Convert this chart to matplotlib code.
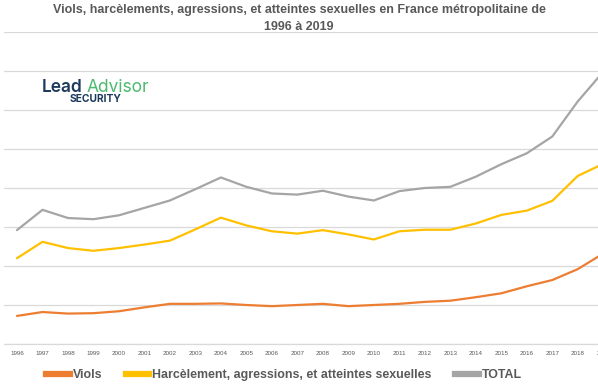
import matplotlib.pyplot as plt
from matplotlib.lines import Line2D

annees = [str(a) for a in range(1996, 2020)]
viols = [7200, 8200, 7800, 7900, 8400, 9400, 10300, 10300, 10400, 10000, 9700, 10000,
         10300, 9700, 10000, 10300, 10800, 11100, 12000, 13000, 14800, 16400, 19200, 23200]
harcelement = [22000, 26200, 24600, 23900, 24600, 25500, 26500, 29400, 32400, 30400, 28900, 28300,
               29200, 28100, 26800, 28900, 29300, 29300, 30900, 33100, 34200, 36700, 43100, 46200]
total = [29200, 34400, 32300, 32000, 33000, 34900, 36800, 39700, 42700, 40300, 38600, 38300,
         39300, 37800, 36800, 39200, 40000, 40300, 42900, 46100, 48900, 53200, 62200, 69800]
series = ["Viols", "Harcèlement, agressions, et atteintes sexuelles", "TOTAL"]
couleurs = ["#ED7D31", "#FFC000", "#A5A5A5"]

W, H = 598, 391
fig = plt.figure(figsize=(W / 100, H / 100), dpi=100)
fig.patch.set_facecolor("white")

# zone de tracé qui déborde à droite (image recadrée)
ax = fig.add_axes([4.25 / W, 1 - 344 / H, (616 - 4.25) / W, 312 / H])
x = range(len(annees))
for vals, c in zip([viols, harcelement, total], couleurs):
    ax.plot(x, vals, color=c, lw=1.6, solid_capstyle="round")

ax.set_xlim(-0.5, len(annees) - 0.5)
ax.set_ylim(0, 80000)
ax.set_yticks(range(0, 80001, 10000))
ax.set_yticklabels([])
ax.set_xticks(list(x))
ax.set_xticklabels(annees, fontsize=4.5, color="#595959", family="Liberation Sans")
ax.tick_params(length=0, pad=5)
ax.grid(axis="y", color="#D9D9D9", lw=0.9)
ax.set_axisbelow(True)
for s in ["top", "right", "left"]:
    ax.spines[s].set_visible(False)
ax.spines["bottom"].set_color("#D9D9D9")
ax.spines["bottom"].set_linewidth(0.9)

# titre
police = ["Liberation Sans"]
fig.text(0.5, 1 - 10 / H, "Viols, harcèlements, agressions, et atteintes sexuelles en France métropolitaine de",
         ha="center", va="center", fontsize=9.0, fontweight="bold", color="#595959", family=police)
fig.text(0.5, 1 - 27 / H, "1996 à 2019",
         ha="center", va="center", fontsize=9.0, fontweight="bold", color="#595959", family=police)

# logo
fig.text(42 / W, 1 - 87 / H, "Lead", ha="left", va="center", fontsize=12.5, fontweight="semibold",
         color="#1D3A5C", family="Inter")
fig.text(87 / W, 1 - 87 / H, "Advisor", ha="left", va="center", fontsize=12.5,
         color="#4CB96E", family="Inter")
fig.text(70 / W, 1 - 99 / H, "SECURITY", ha="left", va="center", fontsize=7.4, fontweight="bold",
         color="#1D3A5C", family="Inter")

# légende
handles = [Line2D([0], [0], color=c, lw=4.5) for c in couleurs]
leg = fig.legend(handles, series, loc="center", bbox_to_anchor=(284 / W, 1 - 375 / H), ncol=3,
                 frameon=False, handlelength=1.9, handletextpad=0.25, columnspacing=1.9,
                 prop={"family": police, "weight": "bold", "size": 8.9})
for t in leg.get_texts():
    t.set_color("#595959")

fig.savefig("out.png", dpi=100, facecolor="white")
